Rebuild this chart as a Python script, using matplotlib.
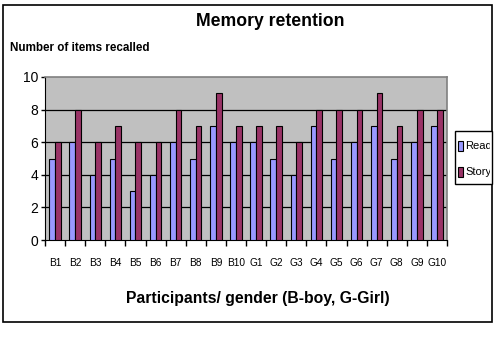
import matplotlib.pyplot as plt
import matplotlib.patches as mpatches
import numpy as np

plt.rcParams['font.family'] = ['Liberation Sans', 'DejaVu Sans']

participants = ['B1', 'B2', 'B3', 'B4', 'B5', 'B6', 'B7', 'B8', 'B9', 'B10',
                'G1', 'G2', 'G3', 'G4', 'G5', 'G6', 'G7', 'G8', 'G9', 'G10']
read = [5, 6, 4, 5, 3, 4, 6, 5, 7, 6, 6, 5, 4, 7, 5, 6, 7, 5, 6, 7]
story = [6, 8, 6, 7, 6, 6, 8, 7, 9, 7, 7, 7, 6, 8, 8, 8, 9, 7, 8, 8]
yticks = [0, 2, 4, 6, 8, 10]

W, H = 500, 338
fig = plt.figure(figsize=(5, 3.38), dpi=100)

# outer chart border
fig.add_artist(mpatches.Rectangle((3 / W, 1 - 322 / H), 489 / W, 317 / H,
                                  transform=fig.transFigure, fill=False,
                                  edgecolor='black', linewidth=1.2))

ax = fig.add_axes([45 / W, 1 - 240 / H, 402 / W, 163 / H])
ax.set_facecolor('#C0C0C0')

x = np.arange(len(participants))
bw = 1 / 3.5
ax.bar(x - bw / 2, read, bw, color='#9999FF', edgecolor='black', linewidth=0.8, zorder=3)
ax.bar(x + bw / 2, story, bw, color='#993366', edgecolor='black', linewidth=0.8, zorder=3)

ax.set_xlim(-0.5, len(participants) - 0.5)
ax.set_ylim(0, 10)
ax.set_yticks(yticks)
ax.tick_params(axis='y', labelsize=10, length=3, width=1, pad=2)
for g in yticks[1:-1]:
    ax.axhline(g, color='black', linewidth=0.9, zorder=1)

# ticks between categories, labels centered under each pair
ax.set_xticks(np.arange(len(participants) + 1) - 0.5)
ax.set_xticklabels([])
ax.set_xticks(x, minor=True)
ax.set_xticklabels(participants, minor=True, fontsize=7.3)
ax.tick_params(axis='x', which='major', length=4, width=1)
ax.tick_params(axis='x', which='minor', length=0, pad=13)

for side in ['top', 'right']:
    ax.spines[side].set_color('#808080')
    ax.spines[side].set_linewidth(1.2)
ax.spines['left'].set_color('black')
ax.spines['bottom'].set_color('black')

fig.text(270 / W, 1 - 22 / H, 'Memory retention', ha='center', va='center',
         fontsize=12.7, fontweight='bold')
fig.text(10 / W, 1 - 48 / H, 'Number of items recalled', ha='left', va='center',
         fontsize=8.4, fontweight='bold')
fig.text(258 / W, 1 - 298 / H, 'Participants/ gender (B-boy, G-Girl)', ha='center',
         va='center', fontsize=11.3, fontweight='bold')

# legend box, text clipped at the frame
box = mpatches.Rectangle((455 / W, 1 - 184 / H), 37 / W, 53 / H,
                         transform=fig.transFigure, facecolor='white',
                         edgecolor='black', linewidth=1)
fig.add_artist(box)
clip = mpatches.Rectangle((455 / W, 1 - 184 / H), 35 / W, 53 / H,
                          transform=fig.transFigure, visible=False)
fig.add_artist(clip)
for yy, col, lab in [(146, '#9999FF', 'Read'), (172, '#993366', 'Story')]:
    fig.add_artist(mpatches.Rectangle((458 / W, 1 - (yy + 5) / H), 5 / W, 10 / H,
                                      transform=fig.transFigure, facecolor=col,
                                      edgecolor='black', linewidth=0.8))
    t = fig.text(465 / W, 1 - yy / H, lab, ha='left', va='center', fontsize=8)
    t.set_clip_path(clip)

fig.savefig('out.png', dpi=100)
